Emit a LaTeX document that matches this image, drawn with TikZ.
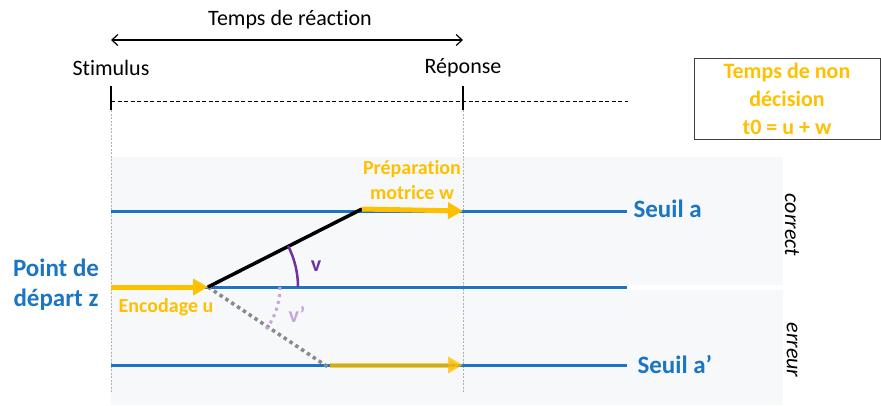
\documentclass[tikz,border=0pt]{standalone}
\usepackage{fontspec}
\setmainfont[Ligatures=NoCommon]{Carlito}
\usetikzlibrary{positioning,arrows.meta,calc}
\definecolor{seuilBlue}{HTML}{1B75C2}
\definecolor{ndYellow}{HTML}{FFC000}
\definecolor{driftPurple}{HTML}{7030A0}
\definecolor{driftLilac}{HTML}{C6A5DC}
\definecolor{panelGray}{HTML}{F7F8FA}
\definecolor{errGray}{HTML}{8A8A8A}

\begin{document}
\begin{tikzpicture}[x=1pt, y=-1pt, >=Stealth,
      lbl/.style={font=\fontsize{22}{26}\selectfont},
      bluelbl/.style={font=\fontsize{25}{30}\selectfont\bfseries, text=seuilBlue, align=center},
      yellbl/.style={font=\fontsize{20}{25}\selectfont\bfseries, text=ndYellow, align=center},
      sidelbl/.style={font=\fontsize{22}{26}\selectfont\itshape, rotate=-90},
      seuil/.style={seuilBlue, line width=3pt},
      ndarrow/.style={ndYellow, line width=5pt, -{Triangle[length=15pt,width=16pt]}},
      guide/.style={gray!60, line width=0.8pt, dash pattern=on 2pt off 1.5pt},
      tickmark/.style={line width=2.5pt}]
    \useasboundingbox (0,0) rectangle (881,405);
    % ---- the two panels
    \fill[panelGray] (111,157) rectangle (783,285);
    \fill[panelGray] (111,290) rectangle (783,405);
    % ---- time axis
    \coordinate (stim) at (111,101);
    \coordinate (resp) at (463,101);
    \coordinate (tEnd) at (628,101);
    \draw[line width=0.9pt, dash pattern=on 4pt off 2.5pt] (stim) -- (tEnd);
    \draw[tickmark] ($(stim)+(0,-15)$) -- ($(stim)+(0,9)$);
    \draw[tickmark] ($(resp)+(0,-15)$) -- ($(resp)+(0,9)$);
    \draw[guide] ($(stim)+(0,9)$) -- ($(stim)+(0,291)$);
    \draw[guide] ($(resp)+(0,9)$) -- ($(resp)+(0,291)$);
    \node[lbl] (stimlbl) at (111,68) {Stimulus};
    \node[lbl] (resplbl) at (463,68) {Réponse};
    \coordinate (rtL) at (111,40);
    \coordinate (rtR) at (463,40);
    \draw[{Straight Barb[length=6pt,width=11pt]}-{Straight Barb[length=6pt,width=11pt]}, line width=1.2pt] (rtL) -- (rtR);
    \node[lbl] (rtlbl) at (290,20) {Temps de réaction};
    % ---- non decision box
    \node[draw=black!75, line width=1pt, minimum width=186pt, minimum height=81pt,
      font=\fontsize{22}{28}\selectfont\bfseries, text=ndYellow, align=center] (t0box) at (787,98.5)
      {Temps de non\\décision\\t0 = u + w};
    % ---- thresholds
    \coordinate (aL) at (111,211);
    \coordinate (aR) at (627,211);
    \coordinate (zL) at (111,287);
    \coordinate (zR) at (627,287);
    \coordinate (bL) at (111,365);
    \coordinate (bR) at (627,365);
    \draw[seuil] (aL) -- (aR);
    \draw[seuil] (zL) -- (zR);
    \draw[seuil] (bL) -- (bR);
    \node[bluelbl, anchor=west] (seuilA) at (630,209) {Seuil a};
    \node[bluelbl, anchor=west] (seuilB) at (634,364) {Seuil a’};
    \node[bluelbl] (zlbl) at (56,285) {Point de\\départ z};
    \node[sidelbl] (corr) at (792,225) {correct};
    \node[sidelbl] (err) at (792,350) {erreur};
    % ---- drift paths
    \coordinate (z0) at (208,287);
    \coordinate (hitA) at (362,209);
    \coordinate (hitB) at (328,367);
    \coordinate (motB) at (330,365);
    \draw[ndarrow] (zL) -- (z0);
    \draw[errGray, line width=3.5pt, dash pattern=on 3.5pt off 3.5pt] (z0) -- (hitB);
    \draw[line width=3.5pt] (z0) -- (hitA);
    \draw[ndarrow] (hitA) -- (resp |- aL);
    \draw[ndarrow, opacity=0.75] (motB) -- (resp |- bL);
    \draw[driftPurple, line width=2.5pt] ($(z0)+(90,0)$) arc[start angle=0, end angle=-27, radius=90];
    \draw[driftLilac, line width=3pt, dash pattern=on 3pt off 4pt] ($(z0)+(72,0)$) arc[start angle=0, end angle=37, radius=72];
    \node[font=\fontsize{22}{26}\selectfont\bfseries, text=driftPurple] (vlbl) at (316,266) {v};
    \node[font=\fontsize{22}{26}\selectfont\bfseries, text=driftLilac] (vplbl) at (297,314) {v’};
    \node[yellbl] (enclbl) at (166,307) {Encodage u};
    \node[yellbl] (preplbl) at (412,180) {Préparation\\motrice w};
  \end{tikzpicture}
\end{document}
